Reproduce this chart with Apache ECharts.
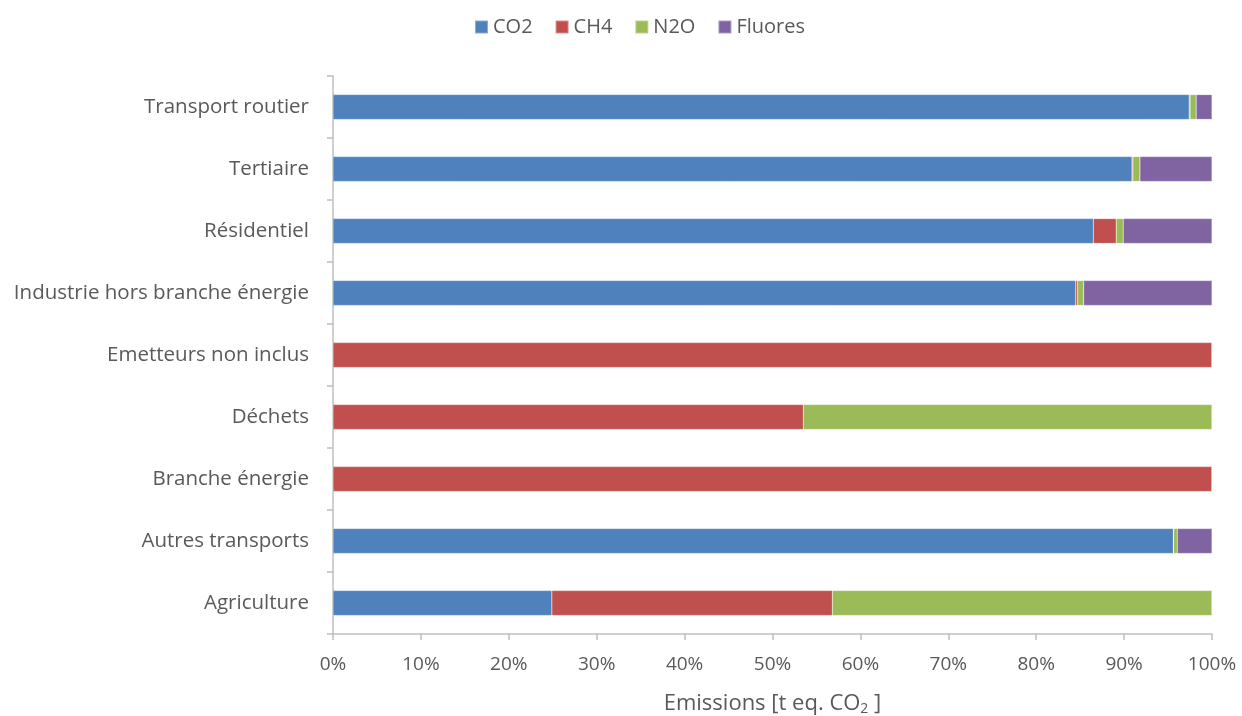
<!DOCTYPE html>
<html><head><meta charset="utf-8">
<script src="https://cdn.jsdelivr.net/npm/echarts@6/dist/echarts.min.js"></script>
<style>html,body{margin:0;padding:0;background:#fff}#c{width:1242px;height:716px}</style>
</head><body><div id="c"></div>
<script>
const categories = ["Agriculture","Autres transports","Branche énergie","Déchets","Emetteurs non inclus","Industrie hors branche énergie","Résidentiel","Tertiaire","Transport routier"];
const seriesNames = ["CO2","CH4","N2O","Fluores"];
const co2 =     [24.9, 95.6, 0,   0,    0,   84.5, 86.5, 90.9, 97.4];
const ch4 =     [31.9, 0.05, 100, 53.5, 100, 0.2,  2.6,  0.1,  0.1];
const n2o =     [43.2, 0.4,  0,   46.5, 0,   0.7,  0.8,  0.8,  0.7];
const fluores = [0,    3.95, 0,   0,    0,   14.6, 10.1, 8.2,  1.8];
const xTicks = [0,10,20,30,40,50,60,70,80,90,100];
const colors = ["#4F81BD","#C0504D","#9BBB59","#8064A2"];
const values = [co2, ch4, n2o, fluores];
const font = "'Open Sans', sans-serif";

const chart = echarts.init(document.getElementById('c'), null, {renderer:'canvas'});
chart.setOption({
  animation:false,
  color: colors,
  legend: {
    top: 12, left: 469, itemWidth: 13, itemHeight: 13, itemGap: 22,
    icon: 'rect',
    textStyle: {fontFamily: font, fontSize: 20, color: '#595959'},
    data: seriesNames
  },
  grid: {left: 333, right: 30, top: 76, bottom: 82, outerBoundsMode: 'none', containLabel: false},
  xAxis: {
    type: 'value', min: 0, max: 100, interval: 10,
    axisLabel: {formatter: v => xTicks.includes(v) ? v + '%' : '', fontFamily: font, fontSize: 19, color: '#595959', margin: 21},
    axisLine: {show: true, lineStyle: {color: '#BFBFBF', width: 1.5}},
    axisTick: {show: true, length: 6, lineStyle: {color: '#BFBFBF', width: 1.5}},
    splitLine: {show: false},
    name: 'Emissions [t eq. CO{sub|2} ]',
    nameLocation: 'middle', nameGap: 58,
    nameTextStyle: {fontFamily: font, fontSize: 22, color: '#595959',
      rich: {sub: {fontFamily: font, fontSize: 14, color: '#595959', verticalAlign: 'bottom', padding: [10,0,0,0]}}}
  },
  yAxis: {
    type: 'category', data: categories,
    axisLine: {show: true, lineStyle: {color: '#BFBFBF', width: 1.5}},
    axisTick: {show: true, length: 6, lineStyle: {color: '#BFBFBF', width: 1.5}},
    axisLabel: {fontFamily: font, fontSize: 20.5, color: '#595959', margin: 24}
  },
  series: seriesNames.map((n, i) => ({
    name: n, type: 'bar', stack: 'total', data: values[i],
    barCategoryGap: '60%',
    itemStyle: {color: colors[i], borderColor: 'rgba(255,255,255,0.35)', borderWidth: 0.5}
  }))
});
</script></body></html>
